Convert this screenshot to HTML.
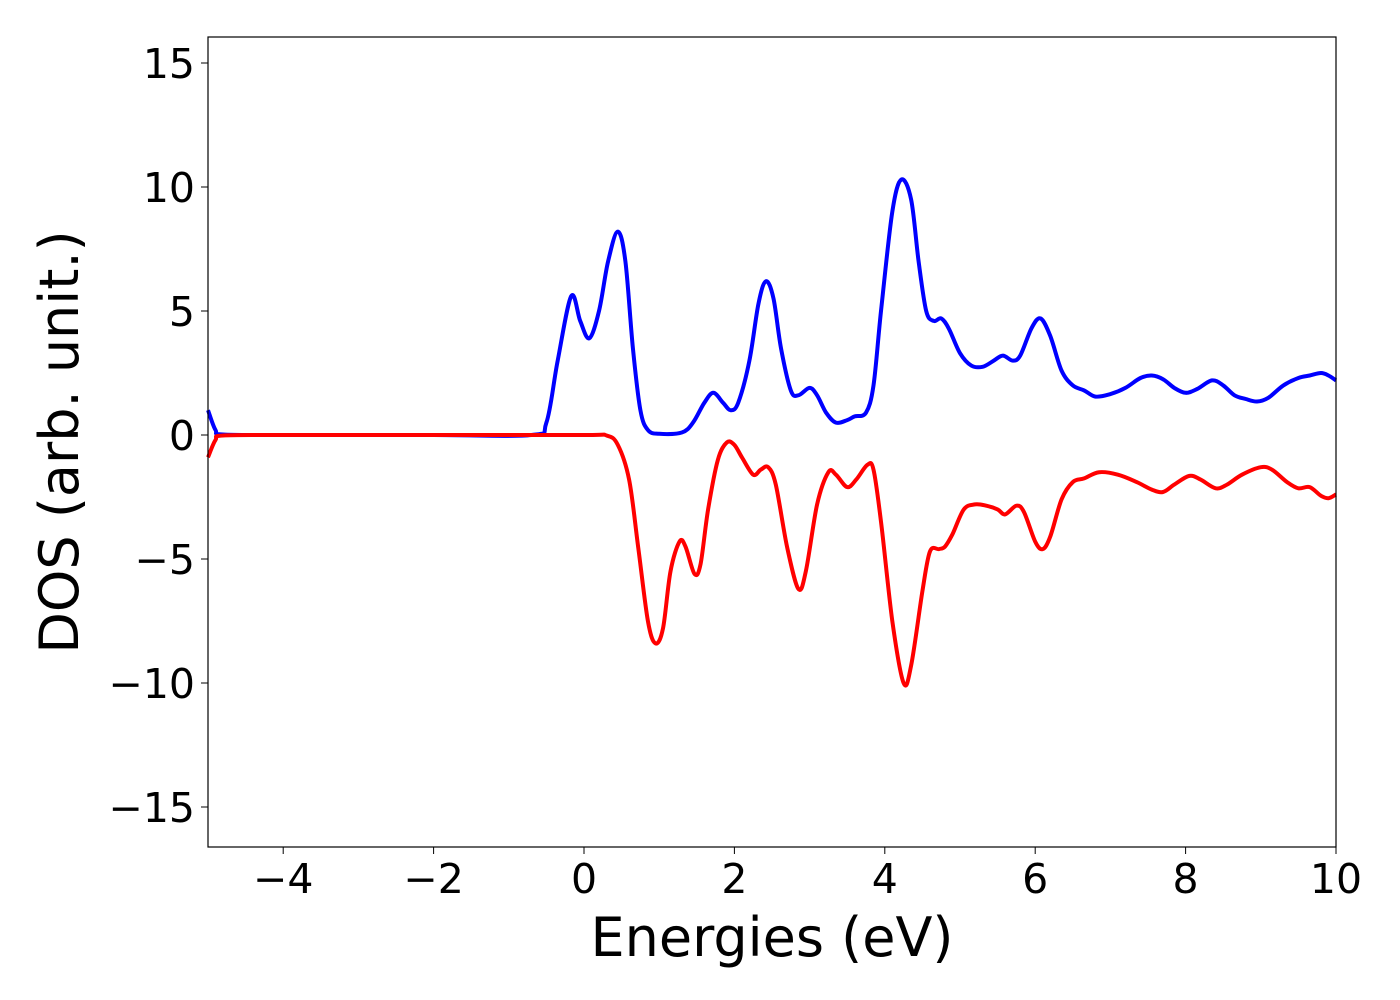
<!DOCTYPE html>
<html><head><meta charset="utf-8"><style>
body{margin:0;background:#fff}
svg{display:block;font-family:"DejaVu Sans","Liberation Sans",sans-serif}
</style></head><body>
<svg id="chart" width="1400" height="1000" viewBox="0 0 1400 1000" xmlns="http://www.w3.org/2000/svg">
<rect width="1400" height="1000" fill="#fff"/>
<g id="plot"></g>
<rect x="208" y="37" width="1128" height="810" fill="none" stroke="#000" stroke-width="1.2"/>
<g id="xt"></g>
<g id="yt"></g>
<text x="772" y="956" font-size="54" text-anchor="middle">Energies (eV)</text>
<text transform="translate(78,442) rotate(-90)" font-size="54" text-anchor="middle">DOS (arb. unit.)</text>
</svg>
<script>
const xTicks=[-4,-2,0,2,4,6,8,10];
const yTicks=[-15,-10,-5,0,5,10,15];
const upX=[-5,-4.9,-4.8,-4,-2,-0.7,-0.5,-0.35,-0.17,-0.05,0.07,0.2,0.32,0.45,0.55,0.65,0.75,0.85,1.0,1.3,1.45,1.6,1.72,1.85,1.95,2.05,2.2,2.32,2.42,2.52,2.62,2.75,2.85,3.0,3.1,3.22,3.35,3.5,3.6,3.75,3.85,3.95,4.1,4.22,4.35,4.45,4.55,4.65,4.75,4.85,5.0,5.15,5.3,5.45,5.57,5.7,5.8,5.95,6.07,6.2,6.35,6.5,6.65,6.8,7.0,7.2,7.4,7.55,7.7,7.85,8.0,8.15,8.35,8.5,8.65,8.8,8.95,9.1,9.3,9.5,9.65,9.8,9.9,10];
const upY=[1.0,0.2,0.02,0,0,0,0.5,3,5.6,4.6,3.9,5,7,8.2,7,3.5,1,0.2,0.05,0.1,0.5,1.3,1.7,1.3,1.0,1.3,3,5.3,6.2,5.5,3.5,1.8,1.6,1.9,1.6,0.9,0.5,0.6,0.75,0.9,2,5,9,10.3,9.5,7,5,4.6,4.7,4.3,3.3,2.8,2.75,3.0,3.2,3.0,3.2,4.3,4.7,4.0,2.6,2.0,1.8,1.55,1.65,1.9,2.3,2.4,2.25,1.9,1.7,1.85,2.2,2.0,1.6,1.45,1.35,1.5,2.0,2.3,2.4,2.5,2.4,2.2];
const dnX=[-5,-4.9,-4.8,-4,-2,0,0.3,0.45,0.6,0.72,0.85,0.95,1.05,1.15,1.27,1.35,1.47,1.55,1.65,1.78,1.9,2.0,2.1,2.25,2.35,2.45,2.55,2.7,2.85,2.95,3.1,3.25,3.35,3.5,3.62,3.77,3.85,3.95,4.1,4.25,4.35,4.5,4.6,4.72,4.8,4.9,5.05,5.2,5.35,5.5,5.6,5.75,5.85,6.0,6.1,6.2,6.35,6.5,6.65,6.85,7.1,7.35,7.55,7.7,7.85,8.05,8.2,8.4,8.55,8.75,9.0,9.15,9.35,9.5,9.65,9.8,9.9,10];
const dnY=[-0.9,-0.2,-0.02,0,0,0,-0.02,-0.4,-1.8,-4.5,-7.5,-8.4,-7.8,-5.5,-4.3,-4.5,-5.6,-5.2,-3,-1,-0.3,-0.4,-0.9,-1.6,-1.4,-1.3,-2,-4.5,-6.2,-5.5,-2.8,-1.5,-1.6,-2.1,-1.8,-1.2,-1.4,-3.5,-7.5,-10.0,-9.3,-6.3,-4.7,-4.6,-4.5,-4.0,-3.0,-2.8,-2.85,-3.0,-3.2,-2.85,-3.1,-4.3,-4.6,-4.1,-2.6,-1.9,-1.75,-1.5,-1.6,-1.9,-2.2,-2.3,-2.0,-1.65,-1.8,-2.15,-2.0,-1.6,-1.3,-1.4,-1.9,-2.15,-2.1,-2.45,-2.55,-2.4];
const NS="http://www.w3.org/2000/svg";
const sx=v=>208+(v+5)*75.2;
const sy=v=>435-v*24.8;
function path(xs,ys){
  const p=xs.map((x,i)=>[sx(x),sy(ys[i])]);
  let d="M"+p[0][0].toFixed(1)+","+p[0][1].toFixed(1);
  for(let i=0;i<p.length-1;i++){
    const a=p[Math.max(0,i-1)],b=p[i],c=p[i+1],e=p[Math.min(p.length-1,i+2)];
    const c1=[b[0]+(c[0]-a[0])/6,b[1]+(c[1]-a[1])/6],c2=[c[0]-(e[0]-b[0])/6,c[1]-(e[1]-b[1])/6];
    d+="C"+c1.map(v=>v.toFixed(1))+" "+c2.map(v=>v.toFixed(1))+" "+c[0].toFixed(1)+","+c[1].toFixed(1);
  }
  return d;
}
const plot=document.getElementById('plot');
[[upX,upY,'#0000ff','spin-up-line'],[dnX,dnY,'#ff0000','spin-down-line']].forEach(s=>{
  const el=document.createElementNS(NS,'path');
  el.setAttribute('d',path(s[0],s[1]));
  el.setAttribute('fill','none');el.setAttribute('stroke',s[2]);el.setAttribute('stroke-width','4');
  
  
  plot.appendChild(el);
});
const fmt=v=>v<0?"\u2212"+(-v):""+v;
const xt=document.getElementById('xt');
xTicks.forEach(v=>{
  const l=document.createElementNS(NS,'line');
  l.setAttribute('x1',sx(v));l.setAttribute('x2',sx(v));l.setAttribute('y1',847);l.setAttribute('y2',854);l.setAttribute('stroke','#000');
  
  
  xt.appendChild(l);
  const t=document.createElementNS(NS,'text');
  t.setAttribute('x',sx(v));t.setAttribute('y',893);t.setAttribute('font-size','41');t.setAttribute('text-anchor','middle');
  t.textContent=fmt(v);
  
  
  xt.appendChild(t);
});
const yt=document.getElementById('yt');
yTicks.forEach(v=>{
  const l=document.createElementNS(NS,'line');
  l.setAttribute('x1',201);l.setAttribute('x2',208);l.setAttribute('y1',sy(v));l.setAttribute('y2',sy(v));l.setAttribute('stroke','#000');
  
  
  yt.appendChild(l);
  const t=document.createElementNS(NS,'text');
  t.setAttribute('x',195);t.setAttribute('y',sy(v)+15);t.setAttribute('font-size','41');t.setAttribute('text-anchor','end');
  t.textContent=fmt(v);
  
  
  yt.appendChild(t);
});
</script>
</body></html>
